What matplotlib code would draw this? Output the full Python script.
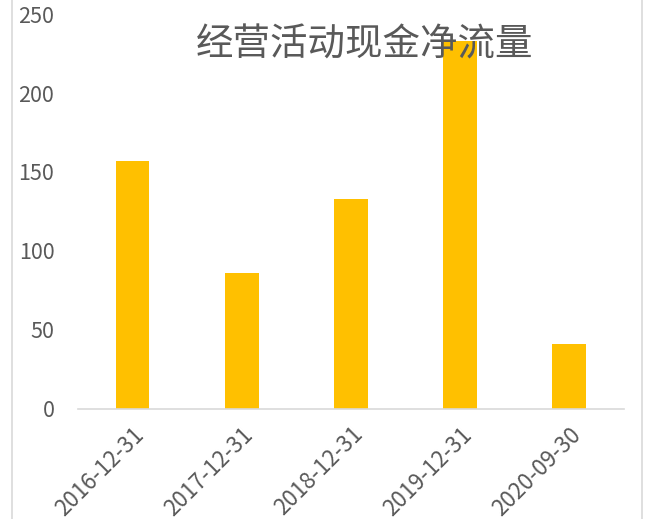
import matplotlib
matplotlib.use("Agg")
import matplotlib.pyplot as plt
from matplotlib.patches import Rectangle

plt.rcParams['font.family'] = ['Noto Sans CJK SC', 'DejaVu Sans']

# data
dates = ['2016-12-31', '2017-12-31', '2018-12-31', '2019-12-31', '2020-09-30']
cash_flow = [157, 86, 133, 233, 41]
y_ticks = [0, 50, 100, 150, 200, 250]

BAR_COLOR = '#FFC000'
TEXT_COLOR = '#595959'

fig = plt.figure(figsize=(6.6, 5.19), dpi=100)
ax = fig.add_axes([0.118, 0.212, 0.827, 0.761])

x = range(len(dates))
ax.bar(x, cash_flow, width=0.31, color=BAR_COLOR, zorder=2)

ax.set_xlim(-0.5, len(dates) - 0.5)
ax.set_ylim(0, 250)
ax.set_yticks(y_ticks)
ax.set_yticklabels([str(v) for v in y_ticks], fontsize=15.5, color=TEXT_COLOR)
ax.set_xticks(list(x))
ax.set_xticklabels(dates, rotation=45, ha='right', rotation_mode='anchor',
                   fontsize=16, color=TEXT_COLOR)
ax.tick_params(axis='both', length=0)
ax.tick_params(axis='y', pad=17)
ax.tick_params(axis='x', pad=10)

for side in ['top', 'right', 'left']:
    ax.spines[side].set_visible(False)
ax.spines['bottom'].set_color('#D9D9D9')
ax.spines['bottom'].set_linewidth(1.2)

# title sits inside the plot, drawn over the bars
fig.text(0.552, 0.913, '经营活动现金净流量', ha='center', va='center',
         fontsize=27, color=TEXT_COLOR, zorder=5)

# chart area frame
fig.patches.append(Rectangle((12 / 660, -0.05), 630 / 660, 1.1,
                             transform=fig.transFigure, fill=False,
                             edgecolor='#D9D9D9', linewidth=1.2))

plt.savefig('out.png', dpi=100)
